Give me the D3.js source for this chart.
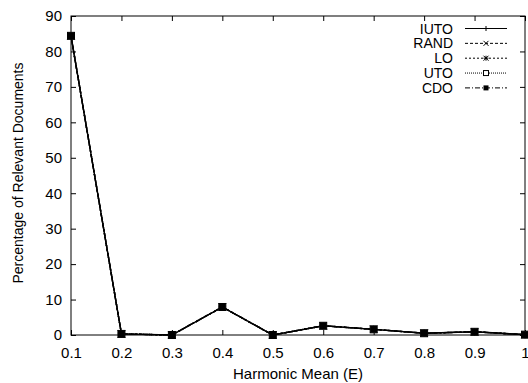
<!DOCTYPE html>
<html>
<head>
<meta charset="utf-8">
<script src="https://cdn.jsdelivr.net/npm/d3@7"></script>
<style>
  body { margin: 0; background: #fff; }
  svg { display: block; font-family: "Liberation Sans", Arial, sans-serif; }
</style>
</head>
<body>
<div id="main"></div>
<script>
// data
var xValues = [0.1, 0.2, 0.3, 0.4, 0.5, 0.6, 0.7, 0.8, 0.9, 1.0];
var iuto = [84.4, 0.3, 0, 7.9, 0, 2.6, 1.6, 0.5, 0.9, 0.1];
var rand = [84.4, 0.3, 0, 7.9, 0, 2.6, 1.6, 0.5, 0.9, 0.1];
var lo   = [84.4, 0.3, 0, 7.9, 0, 2.6, 1.6, 0.5, 0.9, 0.1];
var uto  = [84.4, 0.3, 0, 7.9, 0, 2.6, 1.6, 0.5, 0.9, 0.1];
var cdo  = [84.4, 0.3, 0, 7.9, 0, 2.6, 1.6, 0.5, 0.9, 0.1];
var seriesNames = ["IUTO", "RAND", "LO", "UTO", "CDO"];
var xTicks = [0.1, 0.2, 0.3, 0.4, 0.5, 0.6, 0.7, 0.8, 0.9, 1];
var yTicks = [0, 10, 20, 30, 40, 50, 60, 70, 80, 90];

var W = 528, H = 383;
var margin = { top: 16, right: 3, bottom: 48, left: 71 };
var width = W - margin.left - margin.right;
var height = H - margin.top - margin.bottom;

var svg = d3.select("#main").append("svg")
    .attr("width", W).attr("height", H);
var g = svg.append("g")
    .attr("transform", "translate(" + margin.left + "," + margin.top + ")");

var x = d3.scaleLinear().domain([0.1, 1]).range([0, width]);
var y = d3.scaleLinear().domain([0, 90]).range([height, 0]);

// ticks inside, mirrored (gnuplot style)
var tl = 5;
g.append("g").attr("transform", "translate(0," + height + ")")
    .call(d3.axisBottom(x).tickValues(xTicks).tickSizeInner(-tl).tickSizeOuter(0).tickPadding(12)
        .tickFormat(function (d) { return d === 1 ? "1" : d3.format(".1f")(d); }));
g.append("g")
    .call(d3.axisTop(x).tickValues(xTicks).tickSizeInner(-tl).tickSizeOuter(0).tickFormat(""));
g.append("g")
    .call(d3.axisLeft(y).tickValues(yTicks).tickSizeInner(-tl).tickSizeOuter(0).tickPadding(9));
g.append("g").attr("transform", "translate(" + width + ",0)")
    .call(d3.axisRight(y).tickValues(yTicks).tickSizeInner(-tl).tickSizeOuter(0).tickFormat(""));

g.selectAll(".domain").remove();
g.selectAll(".tick line").attr("stroke", "#000");
g.selectAll(".tick text").attr("font-size", 15).attr("fill", "#000")
    .attr("font-family", "Liberation Sans, Arial, sans-serif");

g.append("rect").attr("width", width).attr("height", height)
    .attr("fill", "none").attr("stroke", "#000").attr("stroke-width", 1);

// axis titles
svg.append("text").attr("x", 298).attr("y", 379)
    .attr("text-anchor", "middle").attr("font-size", 15).text("Harmonic Mean (E)");
svg.append("text")
    .attr("transform", "translate(23,173) rotate(-90)")
    .attr("text-anchor", "middle").attr("font-size", 14).text("Percentage of Relevant Documents");

var styles = [
  { name: "IUTO", data: iuto, dash: null, marker: "plus" },
  { name: "RAND", data: rand, dash: "3,2", marker: "cross" },
  { name: "LO", data: lo, dash: "2,2", marker: "star" },
  { name: "UTO", data: uto, dash: "1,1", marker: "box" },
  { name: "CDO", data: cdo, dash: "5,2,1,2", marker: "fbox" }
];

function drawMarker(sel, type, cx, cy, s) {
  if (type === "plus") {
    sel.append("path").attr("d", "M" + (cx - s) + "," + cy + "H" + (cx + s) + "M" + cx + "," + (cy - s) + "V" + (cy + s))
      .attr("stroke", "#000").attr("stroke-width", 1);
  } else if (type === "cross") {
    sel.append("path").attr("d", "M" + (cx - s) + "," + (cy - s) + "L" + (cx + s) + "," + (cy + s) + "M" + (cx - s) + "," + (cy + s) + "L" + (cx + s) + "," + (cy - s))
      .attr("stroke", "#000").attr("stroke-width", 1);
  } else if (type === "star") {
    sel.append("path").attr("d", "M" + (cx - s) + "," + cy + "H" + (cx + s) + "M" + cx + "," + (cy - s) + "V" + (cy + s) +
      "M" + (cx - s) + "," + (cy - s) + "L" + (cx + s) + "," + (cy + s) + "M" + (cx - s) + "," + (cy + s) + "L" + (cx + s) + "," + (cy - s))
      .attr("stroke", "#000").attr("stroke-width", 1);
  } else if (type === "box") {
    sel.append("rect").attr("x", cx - s).attr("y", cy - s).attr("width", 2 * s).attr("height", 2 * s)
      .attr("fill", "#fff").attr("stroke", "#000").attr("stroke-width", 1);
  } else {
    sel.append("rect").attr("x", cx - s).attr("y", cy - s).attr("width", 2 * s).attr("height", 2 * s)
      .attr("fill", "#000");
  }
}

var line = d3.line()
    .x(function (d, i) { return x(xValues[i]); })
    .y(function (d) { return y(d); });

styles.forEach(function (st) {
  var sg = g.append("g");
  sg.append("path").attr("d", line(st.data)).attr("fill", "none")
    .attr("stroke", "#000").attr("stroke-width", 1.4)
    .attr("stroke-dasharray", st.dash);
  st.data.forEach(function (v, i) { drawMarker(sg, st.marker, x(xValues[i]), y(v), 3.5); });
});

// legend
var lg = svg.append("g");
styles.forEach(function (st, i) {
  var ly = 28.5 + i * 14.85;
  lg.append("text").attr("x", 453).attr("y", ly + 5).attr("text-anchor", "end")
    .attr("font-size", 14).text(st.name);
  lg.append("line").attr("x1", 465).attr("x2", 507).attr("y1", ly).attr("y2", ly)
    .attr("stroke", "#000").attr("stroke-width", 1).attr("stroke-dasharray", st.dash);
  drawMarker(lg, st.marker, 486, ly, 2.5);
});
</script>
</body>
</html>
